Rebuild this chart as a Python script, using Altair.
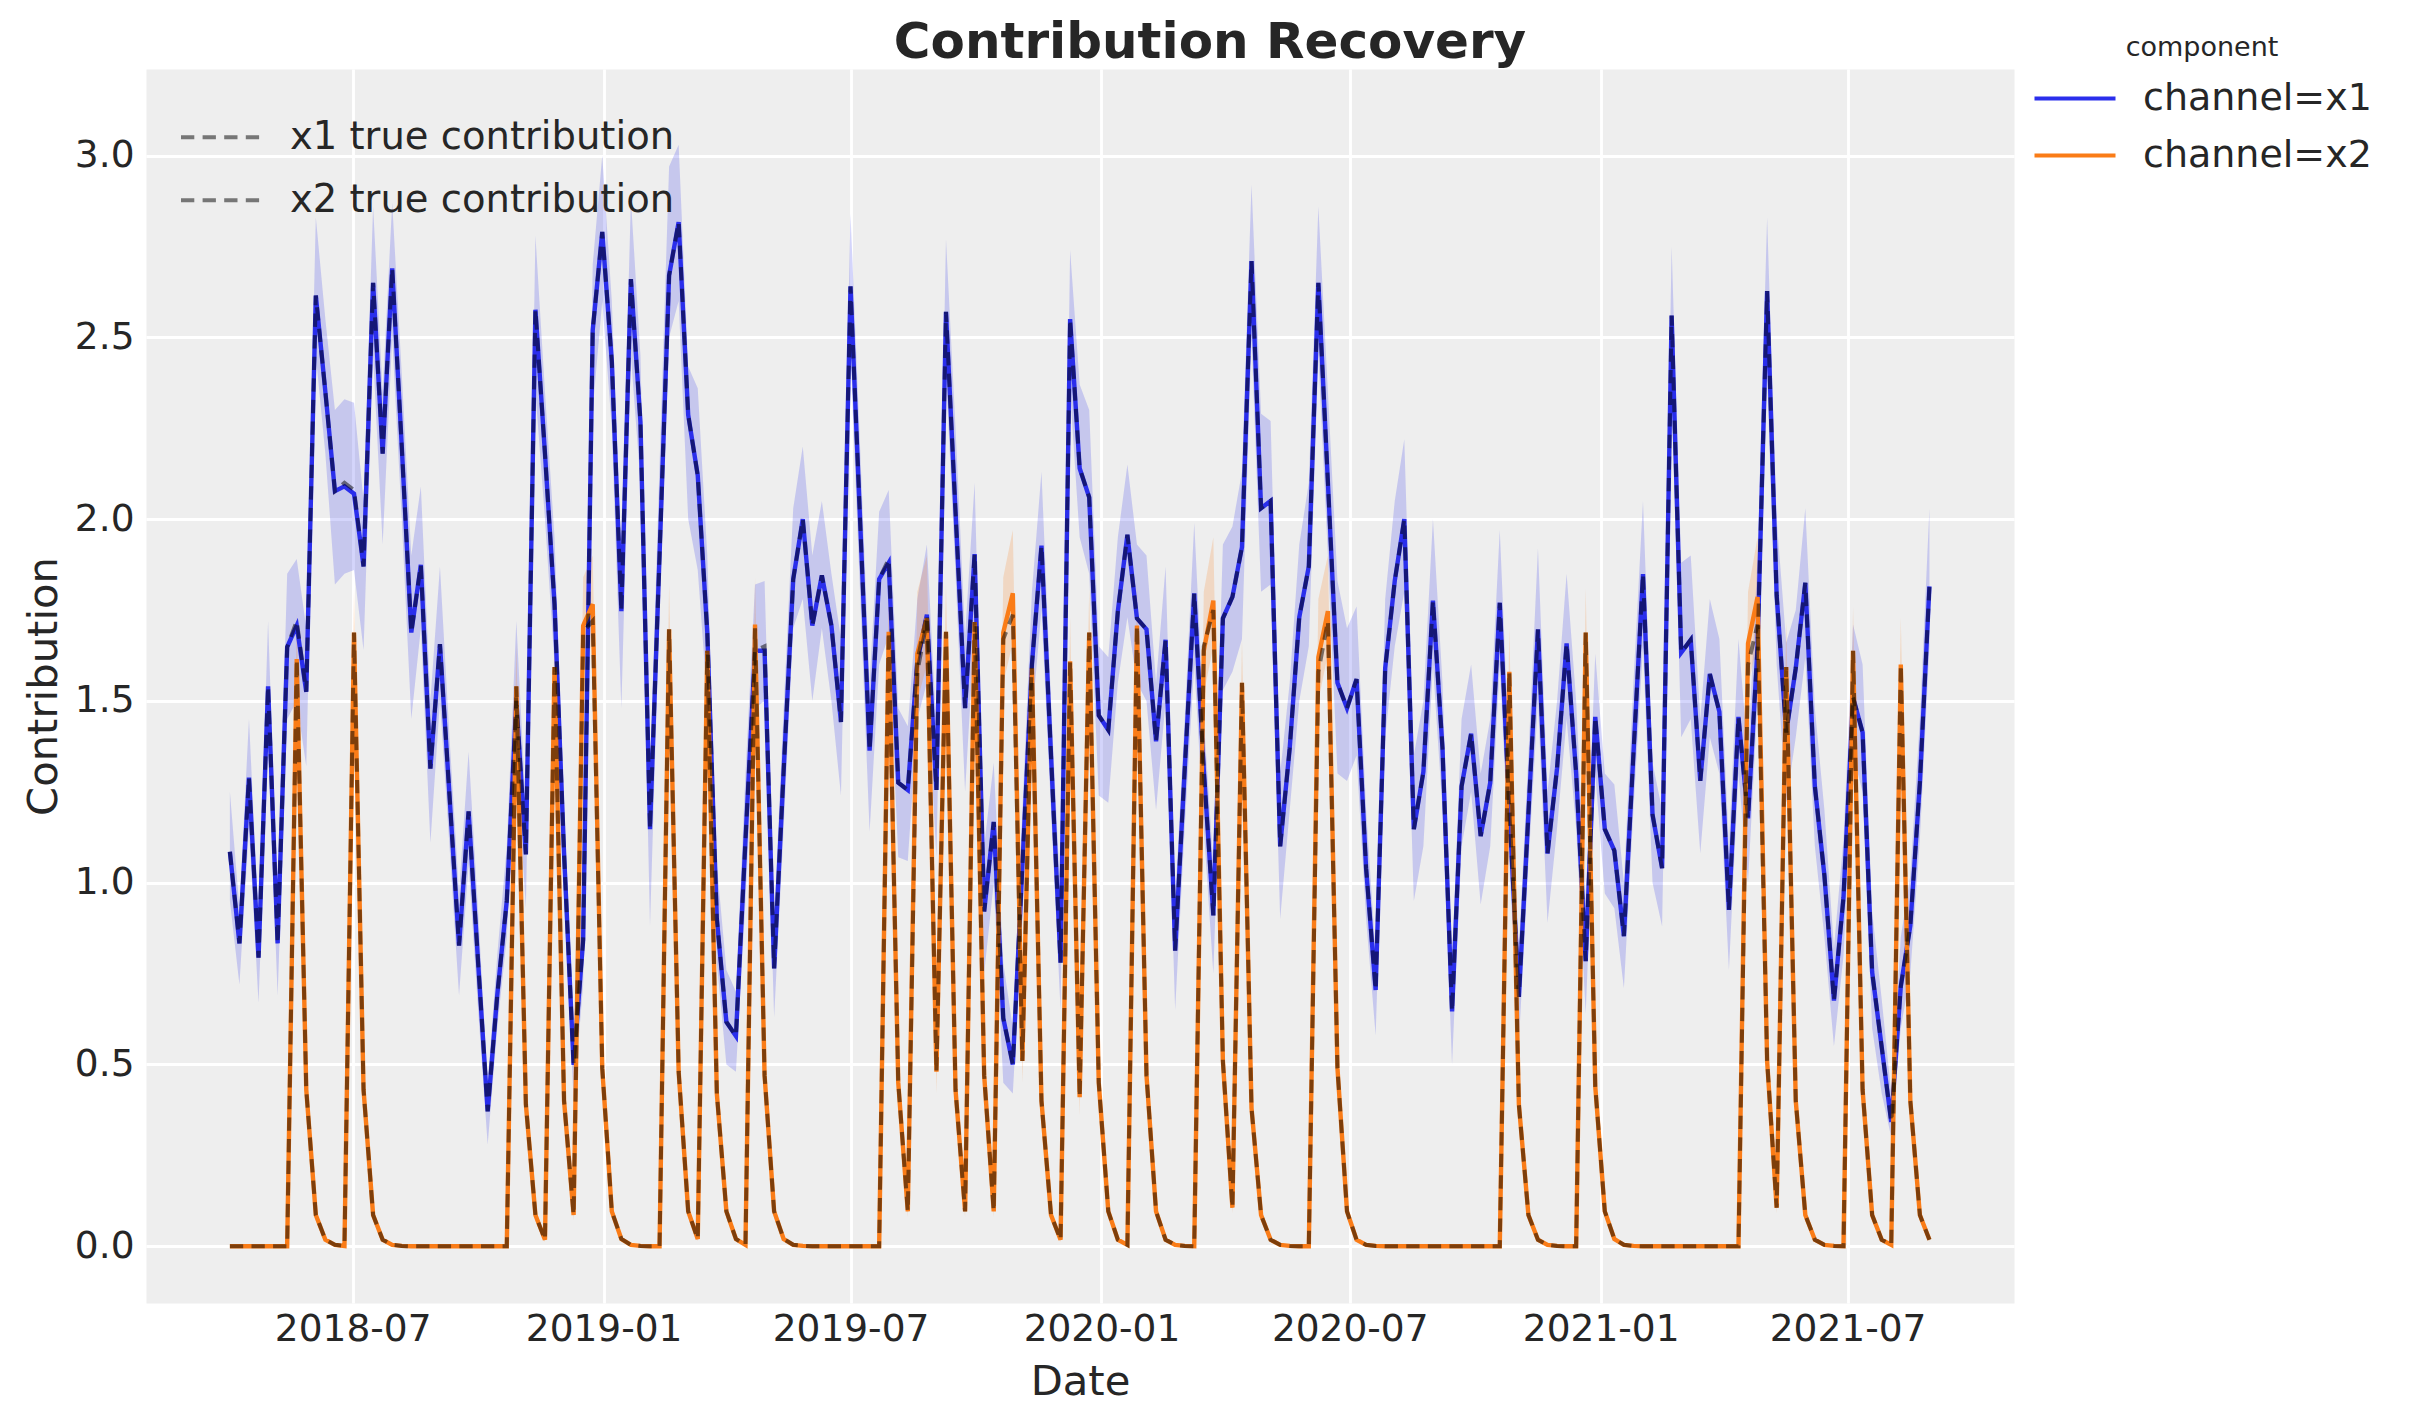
import altair as alt
import pandas as pd

# ---- data ----
dates = pd.date_range("2018-04-02", periods=179, freq="7D").strftime("%Y-%m-%d").tolist()

x1_mean = [
    1.085, 0.833, 1.289, 0.794, 1.540, 0.833, 1.648, 1.707, 1.525, 2.615,
    2.35, 2.077, 2.09, 2.07, 1.87, 2.65, 2.18, 2.69, 2.2, 1.688,
    1.874, 1.314, 1.656, 1.24, 0.827, 1.196, 0.78, 0.371, 0.69, 0.95,
    1.50, 1.078, 2.576, 2.18, 1.766, 1.08, 0.499, 0.843, 2.52, 2.79,
    2.434, 1.747, 2.66, 2.267, 1.147, 1.9, 2.67, 2.817, 2.287, 2.12,
    1.688, 0.9, 0.617, 0.578, 1.118, 1.638, 1.638, 0.764, 1.31, 1.835,
    2.0, 1.707, 1.845, 1.707, 1.442, 2.64, 2.0, 1.363, 1.835, 1.88,
    1.275, 1.255, 1.61, 1.737, 1.255, 2.57, 2.02, 1.48, 1.904, 0.921,
    1.167, 0.627, 0.5, 1.045, 1.6, 1.927, 1.35, 0.78, 2.55, 2.14,
    2.06, 1.46, 1.42, 1.747, 1.957, 1.727, 1.697, 1.389, 1.668, 0.813,
    1.31, 1.796, 1.31, 0.91, 1.727, 1.786, 1.923, 2.71, 2.03, 2.05,
    1.1, 1.37, 1.73, 1.87, 2.65, 2.1, 1.55, 1.48, 1.56, 1.04,
    0.705, 1.59, 1.83, 2.0, 1.147, 1.305, 1.776, 1.37, 0.646, 1.265,
    1.41, 1.128, 1.275, 1.77, 1.2, 0.686, 1.19, 1.697, 1.08, 1.315,
    1.658, 1.3, 0.784, 1.456, 1.147, 1.088, 0.853, 1.354, 1.849, 1.187,
    1.04, 2.56, 1.633, 1.668, 1.28, 1.574, 1.47, 0.925, 1.456, 1.177,
    1.65, 2.627, 1.79, 1.413, 1.59, 1.825, 1.265, 1.02, 0.676, 0.96,
    1.51, 1.413, 0.754, 0.548, 0.342, 0.715, 0.882, 1.275, 1.815,
]
x1_lo = [
    0.95, 0.72, 1.15, 0.67, 1.38, 0.69, 1.45, 1.50, 1.32, 2.45,
    2.18, 1.82, 1.85, 1.86, 1.64, 2.45, 1.93, 2.50, 2.00, 1.45,
    1.70, 1.11, 1.50, 1.10, 0.69, 1.05, 0.65, 0.28, 0.60, 0.85,
    1.35, 0.93, 2.35, 2.00, 1.60, 0.95, 0.40, 0.72, 2.30, 2.60,
    2.25, 1.48, 2.45, 2.10, 0.88, 1.75, 2.50, 2.60, 2.00, 1.86,
    1.50, 0.78, 0.50, 0.48, 0.95, 1.48, 1.50, 0.63, 1.15, 1.70,
    1.78, 1.50, 1.70, 1.50, 1.24, 2.45, 1.80, 1.14, 1.60, 1.68,
    1.07, 1.06, 1.45, 1.55, 1.07, 2.40, 1.85, 1.25, 1.70, 0.75,
    1.00, 0.45, 0.42, 0.90, 1.45, 1.75, 1.20, 0.65, 2.35, 1.95,
    1.85, 1.24, 1.22, 1.55, 1.73, 1.55, 1.50, 1.20, 1.50, 0.65,
    1.15, 1.60, 1.15, 0.75, 1.53, 1.58, 1.67, 2.50, 1.80, 1.82,
    0.90, 1.20, 1.50, 1.65, 2.45, 1.90, 1.30, 1.28, 1.35, 0.90,
    0.58, 1.40, 1.65, 1.80, 0.95, 1.10, 1.60, 1.20, 0.50, 1.10,
    1.25, 0.94, 1.10, 1.60, 1.05, 0.56, 1.05, 1.50, 0.89, 1.15,
    1.45, 1.15, 0.64, 1.30, 0.97, 0.93, 0.71, 1.20, 1.65, 1.00,
    0.88, 2.35, 1.40, 1.45, 1.08, 1.40, 1.30, 0.76, 1.30, 1.00,
    1.50, 2.40, 1.60, 1.22, 1.40, 1.62, 1.10, 0.85, 0.55, 0.80,
    1.35, 1.25, 0.60, 0.42, 0.30, 0.60, 0.75, 1.12, 1.65,
]
x1_hi = [
    1.25, 0.93, 1.45, 0.90, 1.72, 0.95, 1.85, 1.89, 1.70, 2.83,
    2.55, 2.30, 2.33, 2.32, 2.05, 2.86, 2.35, 2.87, 2.40, 1.90,
    2.09, 1.50, 1.87, 1.40, 0.97, 1.36, 0.92, 0.45, 0.80, 1.10,
    1.72, 1.20, 2.78, 2.35, 1.95, 1.22, 0.60, 1.00, 2.70, 3.00,
    2.60, 1.90, 2.88, 2.45, 1.30, 2.15, 2.97, 3.03, 2.42, 2.36,
    1.90, 1.05, 0.76, 0.70, 1.30, 1.82, 1.83, 0.90, 1.48, 2.03,
    2.20, 1.90, 2.05, 1.85, 1.67, 2.84, 2.20, 1.55, 2.02, 2.08,
    1.48, 1.43, 1.78, 1.93, 1.42, 2.77, 2.25, 1.68, 2.10, 1.10,
    1.33, 0.78, 0.60, 1.20, 1.80, 2.13, 1.50, 0.95, 2.74, 2.37,
    2.30, 1.65, 1.62, 1.95, 2.15, 1.93, 1.90, 1.55, 1.87, 0.95,
    1.45, 1.99, 1.45, 1.05, 1.93, 1.98, 2.13, 2.92, 2.29, 2.27,
    1.30, 1.55, 1.93, 2.10, 2.86, 2.35, 1.83, 1.70, 1.76, 1.20,
    0.80, 1.78, 2.05, 2.22, 1.35, 1.50, 2.00, 1.55, 0.78, 1.45,
    1.60, 1.30, 1.45, 1.97, 1.35, 0.82, 1.35, 1.92, 1.25, 1.50,
    1.85, 1.50, 0.95, 1.63, 1.30, 1.27, 1.00, 1.55, 2.05, 1.33,
    1.20, 2.75, 1.88, 1.90, 1.45, 1.78, 1.67, 1.10, 1.67, 1.35,
    1.90, 2.83, 2.00, 1.66, 1.75, 2.03, 1.48, 1.20, 0.82, 1.12,
    1.71, 1.60, 0.92, 0.68, 0.42, 0.85, 1.02, 1.45, 2.03,
]
x1_true = [
    1.085, 0.833, 1.289, 0.794, 1.540, 0.833, 1.648, 1.72, 1.525, 2.615,
    2.35, 2.077, 2.10, 2.08, 1.87, 2.65, 2.18, 2.69, 2.2, 1.688,
    1.874, 1.314, 1.656, 1.24, 0.827, 1.196, 0.78, 0.371, 0.69, 0.95,
    1.50, 1.078, 2.576, 2.18, 1.766, 1.08, 0.499, 0.843, 2.52, 2.79,
    2.434, 1.747, 2.66, 2.267, 1.147, 1.9, 2.67, 2.817, 2.287, 2.12,
    1.688, 0.9, 0.617, 0.578, 1.118, 1.638, 1.65, 0.764, 1.31, 1.835,
    2.0, 1.707, 1.845, 1.707, 1.442, 2.64, 2.0, 1.363, 1.835, 1.89,
    1.275, 1.255, 1.61, 1.737, 1.255, 2.57, 2.02, 1.48, 1.904, 0.921,
    1.167, 0.627, 0.5, 1.045, 1.6, 1.927, 1.35, 0.78, 2.55, 2.14,
    2.06, 1.46, 1.42, 1.747, 1.957, 1.727, 1.697, 1.389, 1.668, 0.813,
    1.31, 1.796, 1.31, 0.91, 1.727, 1.786, 1.923, 2.71, 2.03, 2.05,
    1.1, 1.37, 1.73, 1.87, 2.65, 2.1, 1.55, 1.48, 1.56, 1.04,
    0.705, 1.59, 1.83, 2.0, 1.147, 1.305, 1.776, 1.37, 0.646, 1.265,
    1.41, 1.128, 1.275, 1.77, 1.2, 0.686, 1.19, 1.697, 1.08, 1.315,
    1.658, 1.3, 0.784, 1.456, 1.147, 1.088, 0.853, 1.354, 1.849, 1.187,
    1.04, 2.56, 1.633, 1.668, 1.28, 1.574, 1.47, 0.925, 1.456, 1.177,
    1.65, 2.627, 1.79, 1.413, 1.59, 1.825, 1.265, 1.02, 0.676, 0.96,
    1.51, 1.413, 0.754, 0.548, 0.342, 0.715, 0.882, 1.275, 1.815,
]

x2_mean = [
    0, 0, 0, 0, 0, 0, 0, 1.615, 0.43, 0.086,
    0.018, 0.004, 0.001, 1.688, 0.43, 0.086, 0.018, 0.004, 0.001, 0,
    0, 0, 0, 0, 0, 0, 0, 0, 0, 0,
    1.54, 0.39, 0.086, 0.018, 1.593, 0.4, 0.086, 1.707, 1.766, 0.49,
    0.096, 0.02, 0.004, 0.001, 0, 0, 1.697, 0.48, 0.096, 0.02,
    1.638, 0.42, 0.096, 0.02, 0.004, 1.71, 0.47, 0.096, 0.02, 0.004,
    0.001, 0, 0, 0, 0, 0, 0, 0, 0, 1.69,
    0.45, 0.096, 1.63, 1.727, 0.48, 1.69, 0.43, 0.096, 1.717, 0.47,
    0.096, 1.688, 1.796, 0.51, 1.59, 0.4, 0.086, 0.018, 1.609, 0.41,
    1.688, 0.45, 0.096, 0.018, 0.004, 1.707, 0.47, 0.096, 0.018, 0.004,
    0.001, 0, 1.638, 1.776, 0.51, 0.106, 1.55, 0.38, 0.086, 0.018,
    0.004, 0.001, 0, 0, 1.62, 1.747, 0.49, 0.096, 0.018, 0.004,
    0.001, 0, 0, 0, 0, 0, 0, 0, 0, 0,
    0, 0, 0, 0, 1.58, 0.39, 0.086, 0.018, 0.004, 0.001,
    0, 0, 1.688, 0.44, 0.096, 0.02, 0.004, 0.001, 0, 0,
    0, 0, 0, 0, 0, 0, 0, 0, 0, 1.658,
    1.786, 0.51, 0.106, 1.593, 0.4, 0.086, 0.018, 0.004, 0.001, 0,
    1.638, 0.43, 0.086, 0.018, 0.004, 1.6, 0.4, 0.086, 0.018,
]
x2_lo = [
    0, 0, 0, 0, 0, 0, 0, 1.51, 0.38, 0.07,
    0.012, 0.002, 0, 1.58, 0.38, 0.07, 0.012, 0.002, 0, 0,
    0, 0, 0, 0, 0, 0, 0, 0, 0, 0,
    1.44, 0.34, 0.07, 0.012, 1.49, 0.35, 0.07, 1.60, 1.66, 0.44,
    0.08, 0.014, 0.002, 0, 0, 0, 1.59, 0.43, 0.08, 0.014,
    1.53, 0.37, 0.08, 0.014, 0.002, 1.60, 0.42, 0.08, 0.014, 0.002,
    0, 0, 0, 0, 0, 0, 0, 0, 0, 1.58,
    0.40, 0.08, 1.50, 1.60, 0.42, 1.58, 0.38, 0.08, 1.61, 0.42,
    0.08, 1.55, 1.66, 0.45, 1.48, 0.35, 0.07, 0.012, 1.50, 0.36,
    1.58, 0.40, 0.08, 0.012, 0.002, 1.60, 0.42, 0.08, 0.012, 0.002,
    0, 0, 1.52, 1.65, 0.45, 0.09, 1.44, 0.33, 0.07, 0.012,
    0.002, 0, 0, 0, 1.50, 1.63, 0.44, 0.08, 0.012, 0.002,
    0, 0, 0, 0, 0, 0, 0, 0, 0, 0,
    0, 0, 0, 0, 1.47, 0.34, 0.07, 0.012, 0.002, 0,
    0, 0, 1.58, 0.39, 0.08, 0.014, 0.002, 0, 0, 0,
    0, 0, 0, 0, 0, 0, 0, 0, 0, 1.54,
    1.66, 0.45, 0.09, 1.49, 0.35, 0.07, 0.012, 0.002, 0, 0,
    1.53, 0.38, 0.07, 0.012, 0.002, 1.49, 0.35, 0.07, 0.012,
]
x2_hi = [
    0, 0, 0, 0, 0, 0, 0, 1.74, 0.48, 0.10,
    0.025, 0.006, 0.002, 1.81, 0.48, 0.10, 0.025, 0.006, 0.002, 0,
    0, 0, 0, 0, 0, 0, 0, 0, 0, 0,
    1.66, 0.44, 0.10, 0.025, 1.72, 0.45, 0.10, 1.84, 1.90, 0.54,
    0.11, 0.028, 0.006, 0.002, 0, 0, 1.82, 0.53, 0.11, 0.028,
    1.76, 0.47, 0.11, 0.028, 0.006, 1.84, 0.52, 0.11, 0.028, 0.006,
    0.002, 0, 0, 0, 0, 0, 0, 0, 0, 1.81,
    0.50, 0.11, 1.80, 1.90, 0.54, 1.82, 0.48, 0.11, 1.84, 0.52,
    0.11, 1.84, 1.97, 0.57, 1.72, 0.45, 0.10, 0.025, 1.73, 0.46,
    1.81, 0.50, 0.11, 0.025, 0.006, 1.83, 0.52, 0.11, 0.025, 0.006,
    0.002, 0, 1.80, 1.95, 0.57, 0.12, 1.67, 0.43, 0.10, 0.025,
    0.006, 0.002, 0, 0, 1.78, 1.90, 0.54, 0.11, 0.025, 0.006,
    0.002, 0, 0, 0, 0, 0, 0, 0, 0, 0,
    0, 0, 0, 0, 1.70, 0.44, 0.10, 0.025, 0.006, 0.002,
    0, 0, 1.81, 0.49, 0.11, 0.028, 0.006, 0.002, 0, 0,
    0, 0, 0, 0, 0, 0, 0, 0, 0, 1.80,
    1.95, 0.57, 0.12, 1.72, 0.45, 0.10, 0.025, 0.006, 0.002, 0,
    1.76, 0.48, 0.10, 0.025, 0.006, 1.73, 0.45, 0.10, 0.025,
]
x2_true = [
    0, 0, 0, 0, 0, 0, 0, 1.615, 0.43, 0.086,
    0.018, 0.004, 0.001, 1.688, 0.43, 0.086, 0.018, 0.004, 0.001, 0,
    0, 0, 0, 0, 0, 0, 0, 0, 0, 0,
    1.54, 0.39, 0.086, 0.018, 1.593, 0.4, 0.086, 1.69, 1.72, 0.49,
    0.096, 0.02, 0.004, 0.001, 0, 0, 1.697, 0.48, 0.096, 0.02,
    1.638, 0.42, 0.096, 0.02, 0.004, 1.70, 0.47, 0.096, 0.02, 0.004,
    0.001, 0, 0, 0, 0, 0, 0, 0, 0, 1.69,
    0.45, 0.096, 1.58, 1.72, 0.48, 1.69, 0.43, 0.096, 1.717, 0.47,
    0.096, 1.67, 1.737, 0.51, 1.59, 0.4, 0.086, 0.018, 1.609, 0.41,
    1.688, 0.45, 0.096, 0.018, 0.004, 1.707, 0.47, 0.096, 0.018, 0.004,
    0.001, 0, 1.65, 1.75, 0.51, 0.106, 1.55, 0.38, 0.086, 0.018,
    0.004, 0.001, 0, 0, 1.58, 1.72, 0.49, 0.096, 0.018, 0.004,
    0.001, 0, 0, 0, 0, 0, 0, 0, 0, 0,
    0, 0, 0, 0, 1.58, 0.39, 0.086, 0.018, 0.004, 0.001,
    0, 0, 1.688, 0.44, 0.096, 0.02, 0.004, 0.001, 0, 0,
    0, 0, 0, 0, 0, 0, 0, 0, 0, 1.60,
    1.71, 0.51, 0.106, 1.593, 0.4, 0.086, 0.018, 0.004, 0.001, 0,
    1.638, 0.43, 0.086, 0.018, 0.004, 1.6, 0.4, 0.086, 0.018,
]

components = ["channel=x1", "channel=x2"]
true_labels = ["x1 true contribution", "x2 true contribution"]
colors = ["#2a2eec", "#fa7c17"]
x_tick_dates = [(2018, 7), (2019, 1), (2019, 7), (2020, 1), (2020, 7), (2021, 1), (2021, 7)]
y_ticks = [0.0, 0.5, 1.0, 1.5, 2.0, 2.5, 3.0]

# ---- tables ----
band1_df = pd.DataFrame({"date": dates, "lo": x1_lo, "hi": x1_hi})
band2_df = pd.DataFrame({"date": dates, "lo": x2_lo, "hi": x2_hi})
mean_df = pd.concat([
    pd.DataFrame({"date": dates, "component": components[0], "value": x1_mean}),
    pd.DataFrame({"date": dates, "component": components[1], "value": x2_mean}),
])
true_df = pd.concat([
    pd.DataFrame({"date": dates, "label": true_labels[0], "value": x1_true}),
    pd.DataFrame({"date": dates, "label": true_labels[1], "value": x2_true}),
])

FONT = "DejaVu Sans"
TXT = "#262626"

x_scale = alt.Scale(
    type="utc",
    domain=[alt.DateTime(year=2018, month=1, date=30, hours=12, utc=True),
            alt.DateTime(year=2021, month=10, date=31, utc=True)],
)
x_axis = alt.Axis(
    title="Date",
    values=[alt.DateTime(year=y, month=m, date=1, utc=True) for y, m in x_tick_dates],
    format="%Y-%m",
    labelPadding=7,
    titleX=934, titleY=78, titleAlign="center", titleBaseline="middle",
)
y_scale = alt.Scale(domain=[-0.156, 3.238], nice=False, zero=False)
y_axis = alt.Axis(
    title="Contribution",
    values=y_ticks,
    format=".1f",
    labelPadding=12,
    titleX=-103, titleY=617, titleAngle=270, titleAlign="center", titleBaseline="middle",
)


def band(df, col):
    return alt.Chart(df).mark_area(opacity=0.2, color=col).encode(
        x=alt.X("date:T", scale=x_scale, axis=x_axis),
        y=alt.Y("lo:Q", scale=y_scale, axis=y_axis),
        y2="hi:Q",
    )


band1 = band(band1_df, colors[0])
band2 = band(band2_df, colors[1])

means = alt.Chart(mean_df).mark_line(strokeWidth=4.4).encode(
    x=alt.X("date:T", scale=x_scale, axis=x_axis),
    y=alt.Y("value:Q", scale=y_scale, axis=y_axis),
    color=alt.Color(
        "component:N", scale=alt.Scale(domain=components, range=colors),
        legend=alt.Legend(
            orient="none", legendX=1886, legendY=-34,
            title="component", titleFontSize=27, titleFontWeight="normal",
            titleAnchor="middle", titlePadding=8, titleFont=FONT, titleColor=TXT,
            labelFontSize=38, labelFont=FONT, labelColor=TXT, labelLimit=600,
            symbolType="stroke", symbolSize=6561, symbolStrokeWidth=4.2,
            symbolOpacity=1, labelOffset=25, clipHeight=57, rowPadding=0, padding=0,
        ),
    ),
)

trues = alt.Chart(true_df).mark_line(strokeWidth=4, strokeDash=[13.3, 8.3], opacity=0.5).encode(
    x=alt.X("date:T", scale=x_scale, axis=x_axis),
    y=alt.Y("value:Q", scale=y_scale, axis=y_axis),
    stroke=alt.Stroke(
        "label:N",
        scale=alt.Scale(domain=true_labels, range=["#000000", "#000000"]),
        legend=alt.Legend(
            orient="none", legendX=33, legendY=37, title=None,
            labelFontSize=38.5, labelFont=FONT, labelColor=TXT, labelLimit=800,
            symbolType="stroke", symbolSize=6241, symbolStrokeWidth=3.8,
            symbolDash=[13.3, 8.3], symbolOpacity=0.5,
            labelOffset=28, clipHeight=62.5, rowPadding=0, padding=0,
        ),
    ),
)

chart = alt.layer(band1, band2, means, trues).properties(
    width=1868,
    height=1234,
    background="#ffffff",
    autosize=alt.AutoSizeParams(type="none"),
    padding={"left": 138, "top": 61, "right": 380, "bottom": 100},
    title=alt.TitleParams(
        text="Contribution Recovery", fontSize=50, fontWeight="bold", font=FONT, color=TXT,
        anchor="middle", frame="group", dx=130, dy=44, offset=11,
    ),
).configure_view(
    fill="#eeeeee", stroke="transparent",
).configure_axis(
    grid=True, gridColor="#ffffff", gridWidth=2.8, domain=False, ticks=False, tickSize=0,
    labelFont=FONT, labelFontSize=37.5, labelColor=TXT,
    titleFont=FONT, titleFontSize=41.7, titleFontWeight="normal", titleColor=TXT,
)

chart.save("out.html", embed_options={"renderer": "svg", "actions": False})
